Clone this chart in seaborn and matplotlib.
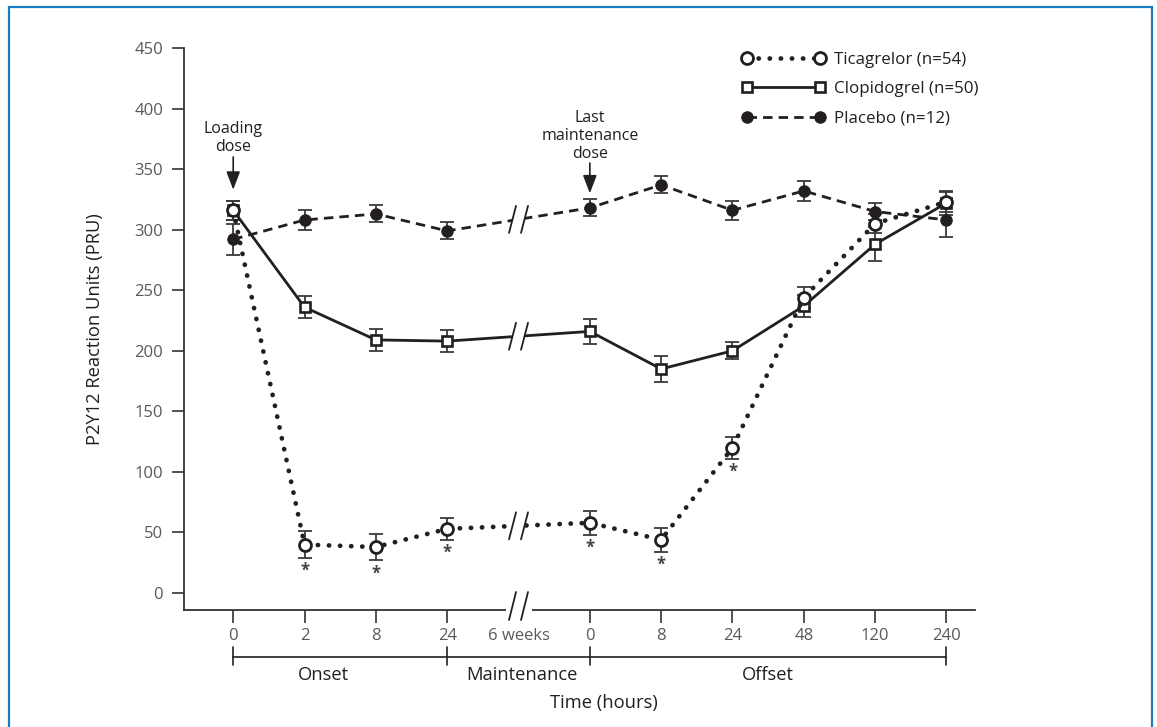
import numpy as np
import pandas as pd
import matplotlib
matplotlib.use("Agg")
import matplotlib.pyplot as plt
import matplotlib.transforms as mtransforms
from matplotlib.patches import Rectangle, Polygon
from matplotlib.lines import Line2D
import seaborn as sns

# ---- data -------------------------------------------------------------
time_labels = ["0", "2", "8", "24", "6 weeks", "0", "8", "24", "48", "120", "240"]
# slot 4 ("6 weeks") is the gap between the onset and offset studies
positions = [0, 1, 2, 3, 5, 6, 7, 8, 9, 10]

ticagrelor = [316, 40, 38, 53, 58, 44, 120, 244, 305, 323]
ticagrelor_err = [8, 11, 11, 9, 10, 10, 9, 9, 8, 8]
clopidogrel = [316, 236, 209, 208, 216, 185, 200, 237, 288, 322]
clopidogrel_err = [8, 9, 9, 9, 10, 11, 7, 9, 14, 10]
placebo = [292, 308, 313, 299, 318, 337, 316, 332, 315, 308]
placebo_err = [13, 8, 7, 7, 7, 7, 8, 8, 7, 14]
significant = [False, True, True, True, True, True, True, False, False, False]

series_names = ["Ticagrelor (n=54)", "Clopidogrel (n=50)", "Placebo (n=12)"]

phases = ["Onset", "Maintenance", "Offset"]
phase_bounds = [0, 3, 5, 10]

y_ticks = [0, 50, 100, 150, 200, 250, 300, 350, 400, 450]

# ---- style --------------------------------------------------------------
sns.set_style("ticks")
plt.rcParams["font.family"] = ["Open Sans", "DejaVu Sans"]
ink = "#231f20"
grey = "#58595b"
FS_TICK = 12
FS_LEG = 12.2
FS_NOTE = 11.5
FS_LABEL = 13.2

W, H = 1157, 727
fig = plt.figure(figsize=(W / 100, H / 100), dpi=100)
ax = fig.add_axes([184 / W, 1 - 610 / H, 791 / W, 562 / H])

dotted = (0, (0.05, 2.3))
dashed = (0, (3.4, 2.2))

styles = {
    "Ticagrelor (n=54)": dict(linestyle=dotted, linewidth=3.4, dash_capstyle="round",
                              marker="o", markersize=8.6, markerfacecolor="white",
                              markeredgecolor=ink, markeredgewidth=2.0),
    "Clopidogrel (n=50)": dict(linestyle="-", linewidth=2.0,
                               marker="s", markersize=7.0, markerfacecolor="white",
                               markeredgecolor=ink, markeredgewidth=1.9),
    "Placebo (n=12)": dict(linestyle=dashed, linewidth=2.0,
                           marker="o", markersize=8.2, markerfacecolor=ink,
                           markeredgecolor=ink, markeredgewidth=0.8),
}
values = {
    "Ticagrelor (n=54)": (ticagrelor, ticagrelor_err),
    "Clopidogrel (n=50)": (clopidogrel, clopidogrel_err),
    "Placebo (n=12)": (placebo, placebo_err),
}

for name in series_names[::-1]:
    vals, errs = values[name]
    ax.errorbar(positions, vals, yerr=errs, fmt="none", ecolor="#3a3a3a",
                elinewidth=1.3, capsize=4.8, capthick=1.3, zorder=2)
    sns.lineplot(x=positions, y=vals, ax=ax, color=ink, sort=False,
                 zorder=3, **styles[name])

# significance stars under the ticagrelor error bars
for p, v, e, s in zip(positions, ticagrelor, ticagrelor_err, significant):
    if s:
        ax.annotate("*", xy=(p, v - e), xytext=(0, -3), textcoords="offset points",
                    ha="center", va="top", fontsize=12, fontweight="bold",
                    color="#444444", zorder=5)

# ---- axes ---------------------------------------------------------------
ax.set_xlim(-0.69, 10.4)
ax.set_ylim(-14, 450)
ax.set_yticks(y_ticks)
ax.set_yticklabels([str(t) for t in y_ticks])
ax.set_xticks(range(len(time_labels)))
ax.set_xticklabels(time_labels)
ax.xaxis.get_major_ticks()[4].tick1line.set_visible(False)
ax.tick_params(axis="both", direction="out", length=9, width=1.2, color="#333333",
               labelsize=FS_TICK, labelcolor=grey)
ax.tick_params(axis="y", pad=6)
ax.tick_params(axis="x", pad=4)
sns.despine(ax=ax)
for side in ("left", "bottom"):
    ax.spines[side].set_linewidth(1.3)
    ax.spines[side].set_color("#333333")
ax.set_xlabel("")
ax.set_ylabel("P2Y12 Reaction Units (PRU)", fontsize=FS_LABEL, color=ink)
ax.yaxis.set_label_coords(-0.101, 0.5)


def break_mark(x, y, trans):
    """Draw a '//' break centred on (x, y) in the given transform."""
    off = fig.dpi_scale_trans + mtransforms.ScaledTranslation(x, y, trans)
    s = 0.01  # one pixel in inches at 100 dpi
    gap = Polygon([(-9.5 * s, -13.5 * s), (2.5 * s, -13.5 * s),
                   (9.5 * s, 13.5 * s), (-2.5 * s, 13.5 * s)],
                  closed=True, fc="white", ec="none", transform=off,
                  zorder=4, clip_on=False)
    ax.add_patch(gap)
    for dx in (-6.0, 6.0):
        ax.add_line(Line2D([(dx - 3.5) * s, (dx + 3.5) * s], [-13.5 * s, 13.5 * s],
                           color=ink, lw=1.3, transform=off, zorder=4.5,
                           clip_on=False))


# breaks in each series between the 24 h and maintenance points
for name in series_names:
    vals, _ = values[name]
    break_mark(4, (vals[3] + vals[4]) / 2, ax.transData)

# break in the time axis
axis_off = fig.dpi_scale_trans + mtransforms.ScaledTranslation(4, 0, ax.get_xaxis_transform())
ax.add_patch(Rectangle((-0.13, -0.03), 0.26, 0.06, fc="white", ec="none",
                       transform=axis_off, zorder=4, clip_on=False))
for dx in (-0.06, 0.06):
    ax.add_line(Line2D([dx - 0.035, dx + 0.035], [-0.10, 0.18], color=ink, lw=1.3,
                       transform=axis_off, zorder=4.5, clip_on=False))

# ---- dose annotations ---------------------------------------------------
arrow = dict(arrowstyle="-|>,head_length=1.1,head_width=0.42", color=ink, lw=1.2,
             shrinkA=0, shrinkB=0, mutation_scale=10)
ax.annotate("", xy=(0, 333), xytext=(0, 360), arrowprops=arrow, zorder=5)
ax.text(0, 362, "Loading\ndose", ha="center", va="bottom", fontsize=FS_NOTE,
        color=ink, linespacing=1.15)
ax.annotate("", xy=(5, 330), xytext=(5, 355), arrowprops=arrow, zorder=5)
ax.text(5, 356, "Last\nmaintenance\ndose", ha="center", va="bottom",
        fontsize=FS_NOTE, color=ink, linespacing=1.15)

# ---- phase bracket under the time axis ----------------------------------
bt = mtransforms.blended_transform_factory(ax.transData, fig.transFigure)
yb = 1 - 657 / H
fig.add_artist(Line2D([phase_bounds[0], phase_bounds[-1]], [yb, yb], color=ink,
                      lw=1.2, transform=bt))
for b in phase_bounds:
    fig.add_artist(Line2D([b, b], [1 - 647 / H, 1 - 665 / H], color=ink, lw=1.2,
                          transform=bt))
phase_label_x = [1.26, 4.05, 7.5]
for lbl, px in zip(phases, phase_label_x):
    fig.text(px, 1 - 675 / H, lbl, transform=bt, ha="center", va="center",
             fontsize=FS_LABEL, color=ink)
fig.text(5.2, 1 - 703 / H, "Time (hours)", transform=bt, ha="center", va="center",
         fontsize=FS_LABEL, color=ink)

# ---- legend -------------------------------------------------------------
handles = [Line2D([], [], color=ink, **styles[n]) for n in series_names]
fig.legend(handles, series_names, loc="upper left",
           bbox_to_anchor=(742 / W, 1 - 52 / H), bbox_transform=fig.transFigure,
           frameon=False, numpoints=2, handlelength=4.9, handletextpad=0.5,
           labelspacing=0.78, borderpad=0, borderaxespad=0,
           prop=dict(size=FS_LEG), labelcolor=ink)

# ---- frame --------------------------------------------------------------
fig.add_artist(Rectangle((9 / W, -0.1), (1152 - 9) / W, (H - 7) / H + 0.1,
                         transform=fig.transFigure, fill=False, ec="#1b7cc6",
                         lw=1.6))

fig.savefig("out.png", dpi=100, facecolor="white")
